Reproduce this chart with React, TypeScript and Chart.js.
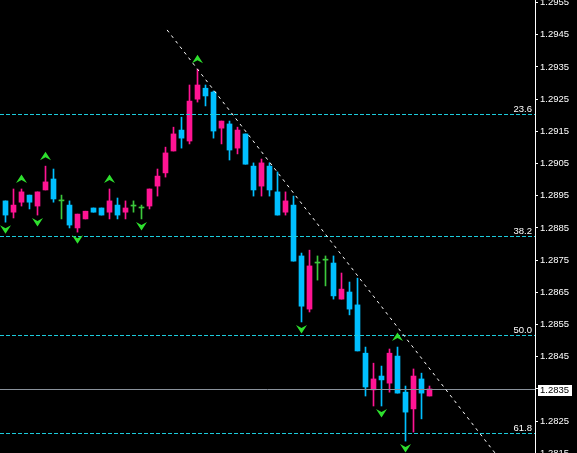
import { useEffect, useRef } from "react";
import { Chart, registerables } from "chart.js";

Chart.register(...registerables);

// OHLC per bar (bar index = position on the time axis)
const opens = [
  1.28934, 1.28899, 1.2893, 1.28952, 1.28918, 1.28968, 1.29002, 1.28934, 1.28921, 1.2885,
  1.28878, 1.28912, 1.28912, 1.28899, 1.28921, 1.28899, 1.28918, 1.28912, 1.28918, 1.2898,
  1.29021, 1.29089, 1.29154, 1.2912, 1.2925, 1.29284, 1.29272, 1.2916, 1.29173, 1.29098,
  1.29142, 1.29042, 1.2898, 1.29042, 1.28962, 1.28899, 1.28921, 1.28763, 1.28598, 1.28741,
  1.2875, 1.28741, 1.28629, 1.28651, 1.28611, 1.28461, 1.28347, 1.2839, 1.28368, 1.28452,
  1.2834, 1.28288, 1.28381, 1.28328,
];
const highs = [
  1.28934, 1.28971, 1.28971, 1.28952, 1.28962, 1.29042, 1.29033, 1.28952, 1.28934, 1.28893,
  1.28902, 1.28912, 1.28912, 1.28971, 1.28943, 1.28934, 1.28934, 1.28921, 1.28971, 1.29033,
  1.29101, 1.29163, 1.29194, 1.29294, 1.29343, 1.29294, 1.29275, 1.29182, 1.29182, 1.29163,
  1.29142, 1.29052, 1.29064, 1.29052, 1.29024, 1.28962, 1.28949, 1.28772, 1.28781, 1.28763,
  1.28763, 1.28763, 1.2871, 1.28682, 1.28694, 1.2848, 1.2843, 1.28421, 1.28474, 1.2848,
  1.28359, 1.28412, 1.28399, 1.28359,
];
const lows = [
  1.28868, 1.28881, 1.28918, 1.28909, 1.2889, 1.28968, 1.2893, 1.28878, 1.2885, 1.28837,
  1.28878, 1.28899, 1.2889, 1.28878, 1.28878, 1.28878, 1.28899, 1.28878, 1.28909, 1.28949,
  1.29008, 1.29089, 1.29098, 1.29111, 1.29241, 1.29229, 1.29129, 1.29111, 1.29061, 1.2908,
  1.29048, 1.28949, 1.28949, 1.28949, 1.2889, 1.2889, 1.28747, 1.28558, 1.28589, 1.28688,
  1.2867, 1.28629, 1.28629, 1.2858, 1.28468, 1.28328, 1.28297, 1.28297, 1.2834, 1.28337,
  1.28188, 1.28216, 1.28257, 1.28328,
];
const closes = [
  1.2889, 1.28921, 1.28962, 1.2893, 1.28962, 1.28993, 1.2894, 1.28934, 1.28859, 1.28893,
  1.28902, 1.28899, 1.2889, 1.28934, 1.2889, 1.28912, 1.28918, 1.28912, 1.28971, 1.29011,
  1.29083, 1.29142, 1.29129, 1.29244, 1.29294, 1.2926, 1.29151, 1.29182, 1.29092, 1.29154,
  1.29048, 1.28968, 1.29052, 1.28968, 1.2889, 1.28934, 1.28747, 1.28607, 1.28732, 1.28741,
  1.2875, 1.28639, 1.2866, 1.28598, 1.28468, 1.28356, 1.28381, 1.28378, 1.28461, 1.28337,
  1.28278, 1.2839, 1.28337, 1.2835,
];

// price scale tick values
const priceTicks = [
  1.2815, 1.2825, 1.2835, 1.2845, 1.2855, 1.2865, 1.2875, 1.2885, 1.2895, 1.2905, 1.2915,
  1.2925, 1.2935, 1.2945, 1.2955,
];

// Fibonacci retracement levels
const fibLabels = ["23.6", "38.2", "50.0", "61.8"];
const fibPrices = [1.29204, 1.28824, 1.28517, 1.28212];

// Bill Williams fractals (bar indices)
const upFractals = [2, 5, 13, 24, 49];
const downFractals = [0, 4, 9, 17, 37, 47, 50];

// trend line anchors: [bar index, price]
const trendFrom = [20.2, 1.29465];
const trendTo = [60.5, 1.28173];

// last bid
const bidPrice = 1.2835;

// visible window
const barMin = -0.6875;
const barMax = 66.1875;
const priceMin = 1.28151;
const priceMax = 1.29558;

const BULL = "#ff1493";
const BEAR = "#00bfff";
const DOJI = "#3cc83c";
const FRACTAL = "#2ee02e";
const FIB = "#1ccbdc";
const BID_LINE = "#8a929c";
const FONT = "9.5px 'Liberation Sans', Arial, sans-serif";

const candleColor = (i: number) =>
  closes[i] > opens[i] ? BULL : closes[i] < opens[i] ? BEAR : DOJI;

const overlayPlugin = {
  id: "terminalOverlay",
  afterDatasetsDraw(chart: any) {
    const { ctx, chartArea: a, scales } = chart;
    const xs = scales.x;
    const ys = scales.y;

    ctx.save();
    ctx.beginPath();
    ctx.rect(a.left, a.top, a.right - a.left, a.bottom - a.top);
    ctx.clip();

    // Fibonacci levels
    ctx.lineWidth = 1;
    ctx.font = FONT;
    fibPrices.forEach((p, k) => {
      const y = Math.round(ys.getPixelForValue(p)) + 0.5;
      ctx.setLineDash([4, 2]);
      ctx.strokeStyle = FIB;
      ctx.beginPath();
      ctx.moveTo(a.left, y);
      ctx.lineTo(a.right, y);
      ctx.stroke();
      ctx.setLineDash([]);
      ctx.fillStyle = "#ffffff";
      ctx.textAlign = "right";
      ctx.textBaseline = "alphabetic";
      ctx.fillText(fibLabels[k], a.right - 3, y - 2.5);
    });

    // bid line
    const by = Math.round(ys.getPixelForValue(bidPrice)) + 0.5;
    ctx.strokeStyle = BID_LINE;
    ctx.beginPath();
    ctx.moveTo(a.left, by);
    ctx.lineTo(a.right, by);
    ctx.stroke();

    // trend line, extended to the bottom edge
    const x1 = xs.getPixelForValue(trendFrom[0]);
    const y1 = ys.getPixelForValue(trendFrom[1]);
    const x2 = xs.getPixelForValue(trendTo[0]);
    const y2 = ys.getPixelForValue(trendTo[1]);
    const slope = (y2 - y1) / (x2 - x1);
    const xEnd = x1 + (a.bottom + 5 - y1) / slope;
    ctx.strokeStyle = "#ffffff";
    ctx.setLineDash([3, 4]);
    ctx.beginPath();
    ctx.moveTo(x1, y1);
    ctx.lineTo(xEnd, a.bottom + 5);
    ctx.stroke();
    ctx.setLineDash([]);

    // fractal arrows
    ctx.fillStyle = FRACTAL;
    upFractals.forEach((i) => {
      const x = xs.getPixelForValue(i);
      const y = ys.getPixelForValue(highs[i]) - 10;
      ctx.beginPath();
      ctx.moveTo(x, y - 4.5);
      ctx.lineTo(x + 5.5, y + 4);
      ctx.lineTo(x, y + 1);
      ctx.lineTo(x - 5.5, y + 4);
      ctx.closePath();
      ctx.fill();
    });
    downFractals.forEach((i) => {
      const x = xs.getPixelForValue(i);
      const y = ys.getPixelForValue(lows[i]) + 7;
      ctx.beginPath();
      ctx.moveTo(x, y + 4.5);
      ctx.lineTo(x + 5.5, y - 4);
      ctx.lineTo(x, y - 1);
      ctx.lineTo(x - 5.5, y - 4);
      ctx.closePath();
      ctx.fill();
    });
    ctx.restore();

    // bid label on the price scale
    ctx.save();
    ctx.fillStyle = "#ffffff";
    ctx.fillRect(a.right + 3, Math.round(by) - 5, 34, 11);
    ctx.fillStyle = "#000000";
    ctx.font = FONT;
    ctx.textAlign = "left";
    ctx.textBaseline = "middle";
    ctx.fillText(bidPrice.toFixed(4), a.right + 5, by + 0.5);
    ctx.restore();
  },
};

export default function App() {
  const canvasRef = useRef<HTMLCanvasElement | null>(null);

  useEffect(() => {
    document.body.style.margin = "0";
    document.body.style.background = "#000000";
    const canvas = canvasRef.current;
    if (!canvas) return;

    const idx = opens.map((_, i) => i);
    const colors = idx.map(candleColor);

    const chart = new Chart(canvas, {
      type: "bar",
      data: {
        datasets: [
          {
            label: "body",
            data: idx.map((i) => ({
              x: i,
              y: [Math.min(opens[i], closes[i]), Math.max(opens[i], closes[i])],
            })) as any,
            backgroundColor: colors,
            barThickness: 5,
            minBarLength: 1,
            grouped: false,
            order: 0,
          } as any,
          {
            label: "wick",
            data: idx.map((i) => ({ x: i, y: [lows[i], highs[i]] })) as any,
            backgroundColor: colors,
            barThickness: 1,
            grouped: false,
            order: 1,
          } as any,
        ],
      },
      options: {
        responsive: false,
        devicePixelRatio: 1,
        animation: false,
        layout: { padding: 0 },
        plugins: {
          legend: { display: false },
          tooltip: { enabled: false },
        },
        scales: {
          x: {
            type: "linear",
            min: barMin,
            max: barMax,
            display: false,
            offset: false,
          },
          y: {
            type: "linear",
            position: "right",
            min: priceMin,
            max: priceMax,
            afterBuildTicks: (scale: any) => {
              scale.ticks = priceTicks.map((v) => ({ value: v }));
            },
            afterFit: (scale: any) => {
              scale.width = 42;
              scale.paddingTop = 0;
              scale.paddingBottom = 0;
            },
            grid: {
              drawOnChartArea: false,
              drawTicks: true,
              tickLength: 3,
              color: "#ffffff",
            },
            border: { display: true, color: "#ffffff", width: 1 },
            ticks: {
              color: "#ffffff",
              font: { family: "'Liberation Sans', Arial, sans-serif", size: 9.5 },
              padding: 2,
              callback: (v: any) => Number(v).toFixed(4),
            },
          },
        },
      } as any,
      plugins: [overlayPlugin],
    });

    return () => chart.destroy();
  }, []);

  return (
    <div style={{ width: 577, height: 453, background: "#000000" }}>
      <canvas
        ref={canvasRef}
        width={577}
        height={453}
        style={{ display: "block", width: 577, height: 453, background: "#000000" }}
      />
    </div>
  );
}
